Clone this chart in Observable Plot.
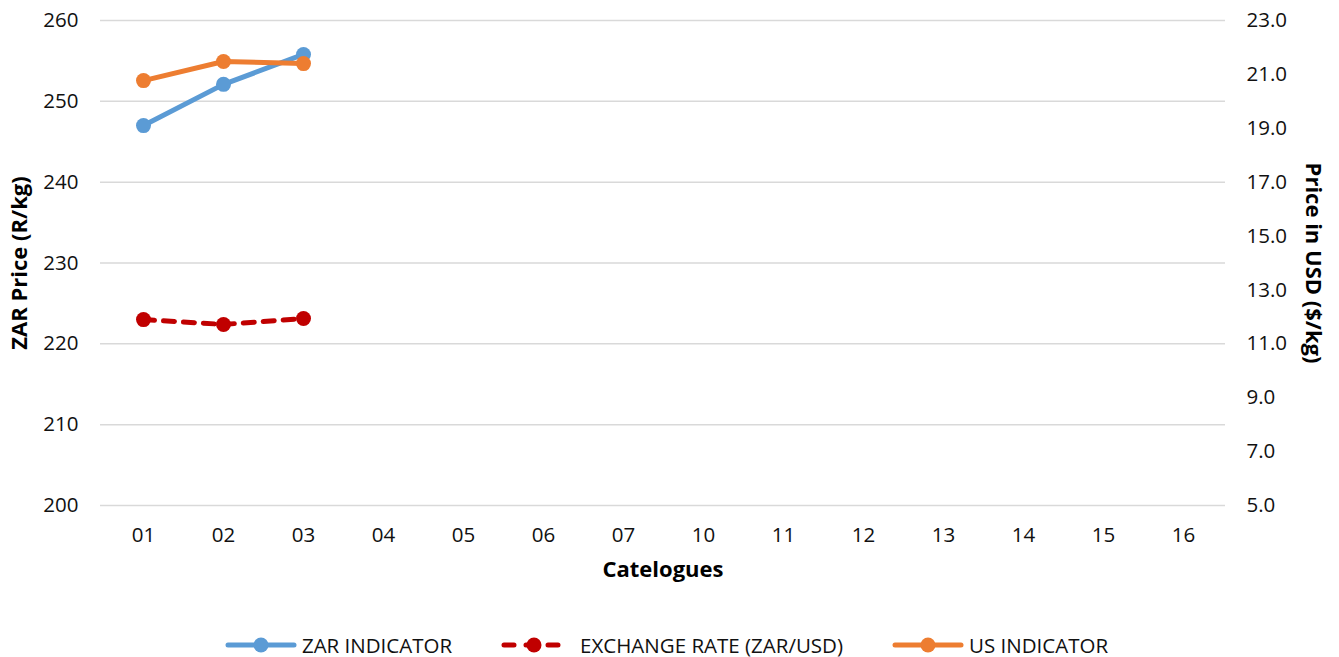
<!DOCTYPE html>
<html>
<head>
<meta charset="utf-8">
<script src="https://cdn.jsdelivr.net/npm/d3@7"></script>
<script src="https://cdn.jsdelivr.net/npm/@observablehq/plot@0.6"></script>
<style>
  body { margin: 0; background: #fff; font-family: "Open Sans", sans-serif; }
  #chart { width: 1339px; height: 600px; }
  #legend { display: flex; justify-content: center; align-items: center; width: 1333px; height: 30px; margin-top: 30px; font-size: 20.5px; color: #111; }
  .item { display: flex; align-items: center; margin-right: 49px; }
  .item:last-child { margin-right: 0; }
  .item svg { display: block; }
</style>
</head>
<body>
<div id="chart"></div>
<div id="legend"></div>
<script>
const catalogues = ["01","02","03","04","05","06","07","10","11","12","13","14","15","16"];
const seriesCats = ["01","02","03"];
const zarIndicator = [247.0, 252.1, 255.8];
const exchangeRate = [11.90, 11.72, 11.94];
const usIndicator = [20.77, 21.48, 21.40];
const leftTicks = [200, 210, 220, 230, 240, 250, 260];
const rightTicks = [5, 7, 9, 11, 13, 15, 17, 19, 21, 23];
const leftDomain = [200, 260];
const rightDomain = [5, 23];

const colors = { zar: "#5b9bd5", fx: "#c00000", us: "#ed7d31" };
const names = { zar: "ZAR INDICATOR", fx: "EXCHANGE RATE (ZAR/USD)", us: "US INDICATOR" };

const k = (leftDomain[1] - leftDomain[0]) / (rightDomain[1] - rightDomain[0]);
const toLeft = v => leftDomain[0] + (v - rightDomain[0]) * k;
const fromLeft = v => rightDomain[0] + (v - leftDomain[0]) / k;

const zarData = seriesCats.map((c, i) => ({ cat: c, v: zarIndicator[i] }));
const fxData = seriesCats.map((c, i) => ({ cat: c, v: toLeft(exchangeRate[i]) }));
const usData = seriesCats.map((c, i) => ({ cat: c, v: toLeft(usIndicator[i]) }));

const font = '"Open Sans", sans-serif';

const chart = Plot.plot({
  width: 1339,
  height: 600,
  marginLeft: 100,
  marginRight: 114,
  marginTop: 20,
  marginBottom: 95,
  style: { fontFamily: font, fontSize: "20.5px", color: "#111", background: "#fff" },
  x: { type: "point", domain: catalogues, padding: 0.5 },
  y: { domain: leftDomain },
  marks: [
    Plot.gridY(leftTicks, { stroke: "#d9d9d9", strokeOpacity: 1, strokeWidth: 1.5 }),
    Plot.axisY({ anchor: "left", ticks: leftTicks, tickSize: 0, tickPadding: 22, label: null, tickFormat: d => String(d) }),
    Plot.axisY({ anchor: "right", ticks: rightTicks.map(toLeft), tickSize: 0, tickPadding: 21, label: null, tickFormat: d => fromLeft(d).toFixed(1) }),
    Plot.axisX({ tickSize: 0, tickPadding: 22, label: null }),
    Plot.text(["ZAR Price (R/kg)"], { frameAnchor: "left", textAnchor: "middle", dx: -81, rotate: -90, fontWeight: "bold", fontSize: 22, fill: "#000" }),
    Plot.text(["Price in USD ($/kg)"], { frameAnchor: "right", textAnchor: "middle", dx: 88, rotate: 90, fontWeight: "bold", fontSize: 22, fill: "#000" }),
    Plot.text(["Catelogues"], { frameAnchor: "bottom", dy: 71, fontWeight: "bold", fontSize: 22, fill: "#000" }),
    Plot.line(zarData, { x: "cat", y: "v", stroke: colors.zar, strokeWidth: 5 }),
    Plot.dot(zarData, { x: "cat", y: "v", fill: colors.zar, r: 7.5 }),
    Plot.line(fxData, { x: "cat", y: "v", stroke: colors.fx, strokeWidth: 5, strokeDasharray: "11,9", strokeLinecap: "round" }),
    Plot.dot(fxData, { x: "cat", y: "v", fill: colors.fx, r: 7.5 }),
    Plot.line(usData, { x: "cat", y: "v", stroke: colors.us, strokeWidth: 5 }),
    Plot.dot(usData, { x: "cat", y: "v", fill: colors.us, r: 7.5 })
  ]
});
document.getElementById("chart").appendChild(chart);

const legend = d3.select("#legend");
for (const key of ["zar", "fx", "us"]) {
  const item = legend.append("div").attr("class", "item");
  const w = key === "fx" ? 66 : 72;
  const svg = item.append("svg").attr("width", w).attr("height", 20)
    .style("margin-right", key === "fx" ? "13px" : "5px");
  svg.append("line").attr("x1", 3).attr("x2", w - 3).attr("y1", 10).attr("y2", 10)
    .attr("stroke", colors[key]).attr("stroke-width", 5)
    .attr("stroke-dasharray", key === "fx" ? "10,12" : null)
    .attr("stroke-linecap", "round");
  svg.append("circle").attr("cx", w / 2).attr("cy", 10).attr("r", 7.5).attr("fill", colors[key]);
  item.append("span").text(names[key]);
}
</script>
</body>
</html>
